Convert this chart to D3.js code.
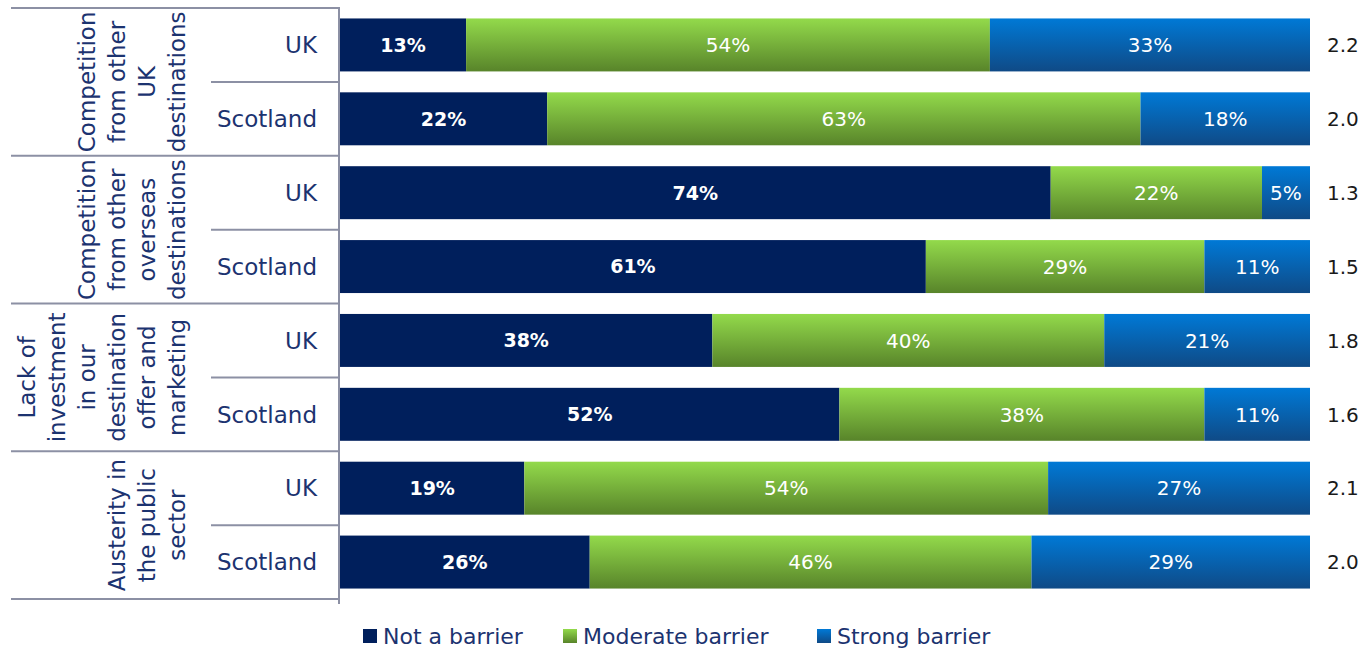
<!DOCTYPE html>
<html>
<head>
<meta charset="utf-8">
<script src="https://cdn.jsdelivr.net/npm/d3@7"></script>
<style>
  html, body { margin: 0; padding: 0; background: #fff; }
  svg { display: block; font-family: "DejaVu Sans", "Noto Sans", sans-serif; }
</style>
</head>
<body>
<svg id="chart" width="1364" height="649"></svg>
<script>
// Barrier ratings by issue and respondent group
const groupLabels = [
  ["Competition", "from other", "UK", "destinations"],
  ["Competition", "from other", "overseas", "destinations"],
  ["Lack of", "investment", "in our", "destination", "offer and", "marketing"],
  ["Austerity in", "the public", "sector"]
];
const regions = ["UK", "Scotland"];
const seriesNames = ["Not a barrier", "Moderate barrier", "Strong barrier"];
const notBarrier = [13, 22, 74, 61, 38, 52, 19, 26];
const moderateBarrier = [54, 63, 22, 29, 40, 38, 54, 46];
const strongBarrier = [33, 18, 5, 11, 21, 11, 27, 29];
const meanScore = [2.2, 2.0, 1.3, 1.5, 1.8, 1.6, 2.1, 2.0];

const rows = [];
groupLabels.forEach((g, gi) => regions.forEach((r, ri) => {
  const i = gi * 2 + ri;
  rows.push({
    id: i, group: gi, region: r,
    "Not a barrier": notBarrier[i],
    "Moderate barrier": moderateBarrier[i],
    "Strong barrier": strongBarrier[i],
    score: meanScore[i]
  });
}));

const svg = d3.select("#chart");
const plotLeft = 340, plotRight = 1310, plotTop = 8, plotBottom = 599;
const navyText = "#1c3370";
const lineColor = "#8c90a4";

const x = d3.scaleLinear().domain([0, 1]).range([plotLeft, plotRight]);
const y = d3.scaleBand().domain(rows.map(d => d.id)).range([plotTop, plotBottom])
  .paddingInner(0.283).paddingOuter(0.1415);
const step = y.step();

// gradients for the two lighter series
const defs = svg.append("defs");
const grads = {
  "Moderate barrier": ["#93da4b", "#58842a"],
  "Strong barrier": ["#0079d6", "#0f4a86"]
};
Object.entries(grads).forEach(([k, [c0, c1]], i) => {
  const g = defs.append("linearGradient").attr("id", "grad" + i)
    .attr("x1", 0).attr("y1", 0).attr("x2", 0).attr("y2", 1);
  g.append("stop").attr("offset", "0%").attr("stop-color", c0);
  g.append("stop").attr("offset", "100%").attr("stop-color", c1);
});
const fill = d3.scaleOrdinal().domain(seriesNames)
  .range(["#001f5c", "url(#grad0)", "url(#grad1)"]);

const stacked = d3.stack().keys(seriesNames).offset(d3.stackOffsetExpand)(rows);

const layer = svg.append("g").selectAll("g").data(stacked).join("g")
  .attr("fill", d => fill(d.key));
layer.selectAll("rect").data(d => d.map(p => Object.assign(p, { key: d.key })))
  .join("rect")
  .attr("x", d => x(d[0]))
  .attr("width", d => x(d[1]) - x(d[0]))
  .attr("y", d => y(d.data.id))
  .attr("height", y.bandwidth());

// value labels inside segments
layer.selectAll("text").data(d => d).join("text")
  .attr("x", d => (x(d[0]) + x(d[1])) / 2)
  .attr("y", d => y(d.data.id) + y.bandwidth() / 2)
  .attr("dy", "0.36em")
  .attr("text-anchor", "middle")
  .attr("fill", "#fff")
  .attr("font-size", d => d.key === "Not a barrier" ? 19 : 20)
  .attr("font-weight", d => d.key === "Not a barrier" ? "bold" : "normal")
  .text(d => d.data[d.key] + "%");

// mean scores to the right
svg.append("g").selectAll("text").data(rows).join("text")
  .attr("x", 1327)
  .attr("y", d => y(d.id) + y.bandwidth() / 2)
  .attr("dy", "0.36em")
  .attr("font-size", 20)
  .attr("fill", "#1a1a1a")
  .text(d => d3.format(".1f")(d.score));

// table rules on the left
const rules = svg.append("g").attr("stroke", lineColor).attr("stroke-width", 2);
d3.range(groupLabels.length + 1).forEach(k => {
  const yy = plotTop + k * 2 * step;
  rules.append("line").attr("x1", 11).attr("x2", plotLeft - 1).attr("y1", yy).attr("y2", yy);
});
d3.range(groupLabels.length).forEach(k => {
  const yy = plotTop + (2 * k + 1) * step;
  rules.append("line").attr("x1", 211).attr("x2", plotLeft - 1).attr("y1", yy).attr("y2", yy);
});
rules.append("line").attr("x1", plotLeft - 1).attr("x2", plotLeft - 1)
  .attr("y1", plotTop - 1).attr("y2", plotBottom + 5);

// region labels
svg.append("g").selectAll("text").data(rows).join("text")
  .attr("x", 317)
  .attr("y", d => y(d.id) + y.bandwidth() / 2)
  .attr("dy", "0.36em")
  .attr("text-anchor", "end")
  .attr("font-size", 23)
  .attr("fill", navyText)
  .text(d => d.region);

// rotated group labels
const gl = svg.append("g").selectAll("g").data(groupLabels).join("g")
  .attr("transform", (d, i) => `translate(0,${plotTop + (2 * i + 1) * step})`);
gl.selectAll("text").data(d => d.map((t, j) => ({ t, j, n: d.length }))).join("text")
  .attr("transform", d => `translate(${177 - (d.n - 1 - d.j) * 30},0) rotate(-90)`)
  .attr("dy", "0.36em")
  .attr("text-anchor", "middle")
  .attr("font-size", 23)
  .attr("fill", navyText)
  .text(d => d.t);

// legend
const legendX = [363, 563, 817];
const lg = svg.append("g").selectAll("g").data(seriesNames).join("g")
  .attr("transform", (d, i) => `translate(${legendX[i]},636)`);
lg.append("rect").attr("x", 0).attr("y", -7).attr("width", 14).attr("height", 14)
  .attr("fill", d => fill(d));
lg.append("text").attr("x", 20).attr("dy", "0.36em")
  .attr("font-size", 22).attr("fill", navyText)
  .text(d => d);
</script>
</body>
</html>
